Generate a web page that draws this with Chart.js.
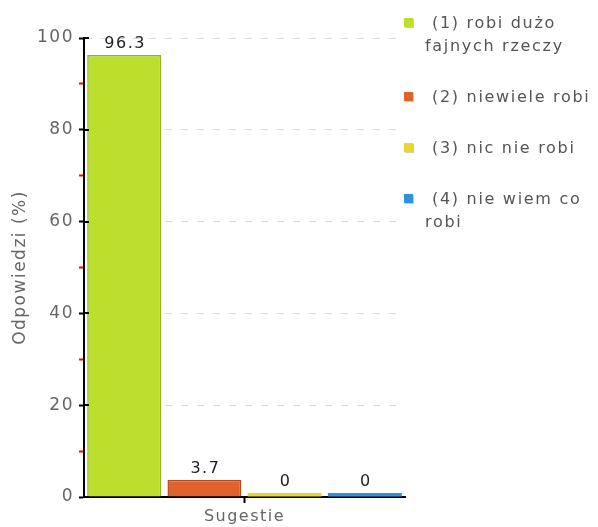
<!DOCTYPE html>
<html>
<head>
<meta charset="utf-8">
<script src="https://cdn.jsdelivr.net/npm/chart.js@4/dist/chart.umd.min.js"></script>
<style>
  html, body { margin: 0; padding: 0; background: #fff; }
  #wrap { position: relative; width: 598px; height: 527px; }
  #legend { position: absolute; left: 404px; top: 11px; width: 194px; font-family: "DejaVu Sans", sans-serif; font-size: 16px; letter-spacing: 1.7px; color: #555; }
  .item { display: flex; align-items: flex-start; margin-bottom: 28px; line-height: 23px; }
  .sw { width: 9px; height: 9px; margin-top: 7px; margin-right: 12px; flex: none; box-shadow: 1px 1px 0 #ccc; }
  .txt { text-indent: 7px; }
</style>
</head>
<body>
<div id="wrap">
  <canvas id="chart" width="598" height="527"></canvas>
  <div id="legend"></div>
</div>
<script>
// data
const categories = ['Sugestie'];
const seriesNames = ['(1) robi dużo fajnych rzeczy', '(2) niewiele robi', '(3) nic nie robi', '(4) nie wiem co robi'];
const seriesValues = [96.3, 3.7, 0, 0];
const yTicks = [0, 20, 40, 60, 80, 100];

const fillColours = ['#bcdf2e', '#e0622d', '#e8d62c', '#2d93e0'];
const borderColours = ['#8db418', '#b84a1c', '#c9b81a', '#1c72b8'];

Chart.defaults.font.family = '"DejaVu Sans", sans-serif';

// legend (html so the long labels can wrap)
const legendBox = document.getElementById('legend');
seriesNames.forEach(function (name, i) {
  let item = document.createElement('div');
  item.className = 'item';
  item.innerHTML = '<span class="sw" style="background:' + fillColours[i] + '"></span><span class="txt">' + name + '</span>';
  legendBox.appendChild(item);
});

// wide letter spacing, value labels above bars, inner half of the major y ticks
const extras = {
  id: 'extras',
  beforeDraw(chart) {
    chart.ctx.letterSpacing = '1.5px';
  },
  afterDatasetsDraw(chart) {
    const ctx = chart.ctx;
    ctx.save();
    ctx.font = '16px "DejaVu Sans", sans-serif';
    ctx.fillStyle = '#222';
    ctx.textAlign = 'center';
    ctx.textBaseline = 'bottom';
    chart.data.datasets.forEach(function (ds, i) {
      const bar = chart.getDatasetMeta(i).data[0];
      ctx.fillText(String(ds.data[0]), bar.x + 1, bar.y - 3);
    });
    const y = chart.scales.y;
    const left = chart.chartArea.left;
    ctx.strokeStyle = '#000';
    ctx.lineWidth = 2;
    yTicks.forEach(function (v) {
      const py = Math.round(y.getPixelForValue(v));
      ctx.beginPath();
      ctx.moveTo(left, py);
      ctx.lineTo(left + 5, py);
      ctx.stroke();
    });
    ctx.restore();
  }
};

new Chart(document.getElementById('chart'), {
  type: 'bar',
  data: {
    labels: categories,
    datasets: seriesNames.map(function (name, i) {
      return {
        label: name,
        data: [seriesValues[i]],
        backgroundColor: fillColours[i],
        borderColor: borderColours[i],
        borderWidth: seriesValues[i] > 0 ? 1.5 : 0,
        minBarLength: 4,
        barPercentage: 0.92,
        categoryPercentage: 1
      };
    })
  },
  options: {
    responsive: false,
    animation: false,
    layout: { padding: { top: 38, right: 193, left: 0, bottom: 0 } },
    plugins: { legend: { display: false }, tooltip: { enabled: false } },
    scales: {
      x: {
        afterFit: function (s) { s.height = 30; },
        grid: { offset: false, drawOnChartArea: false, tickLength: 6, tickColor: '#000', tickWidth: 2 },
        border: { color: '#000', width: 2 },
        ticks: { color: '#666', font: { size: 16 }, padding: 4 }
      },
      y: {
        min: 0,
        max: 100,
        afterFit: function (s) { s.width = 84; },
        ticks: {
          stepSize: 10,
          color: '#666',
          font: { size: 17 },
          padding: 5,
          callback: function (v) { return yTicks.includes(v) ? v : ''; }
        },
        grid: {
          color: function (c) { return (c.tick && yTicks.includes(c.tick.value) && c.tick.value > 0) ? '#d8d8d8' : 'rgba(0,0,0,0)'; },
          tickColor: function (c) { return (c.tick && yTicks.includes(c.tick.value)) ? '#000' : '#ff0000'; },
          tickLength: 5,
          tickWidth: 2
        },
        border: { color: '#000', width: 2, dash: [7, 9] },
        title: { display: true, text: 'Odpowiedzi (%)', color: '#666', font: { size: 17 }, padding: { top: 10, bottom: 0 } }
      }
    }
  },
  plugins: [extras]
});
</script>
</body>
</html>
